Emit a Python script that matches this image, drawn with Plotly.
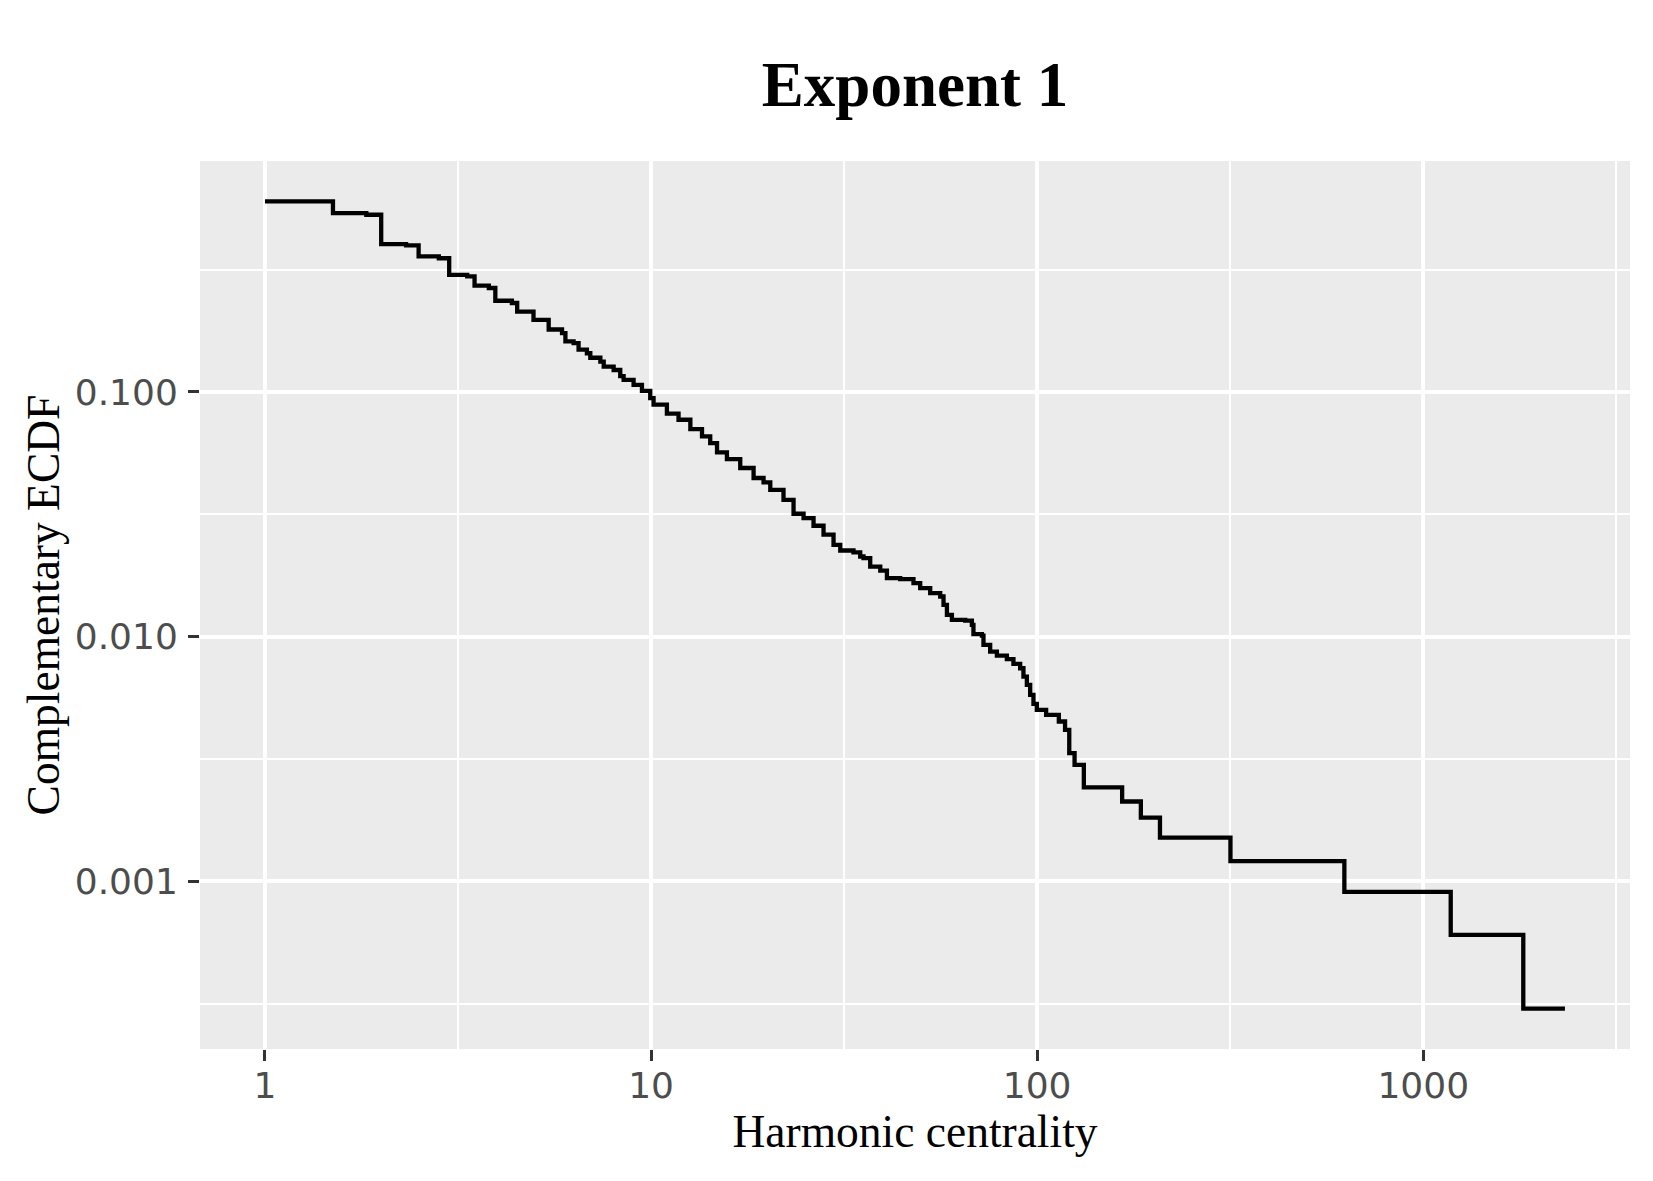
import plotly.graph_objects as go

# Complementary ECDF step data (value where each level starts, level)
centrality = [1.0, 1.5, 1.83, 2.0, 2.32, 2.5, 2.82, 3.0, 3.34, 3.49, 3.80, 3.95,
              4.36, 4.50, 4.96, 5.43, 5.88, 6.00, 6.30, 6.49, 6.82, 6.96, 7.39,
              7.54, 8.00, 8.32, 8.49, 9.01, 9.47, 9.95, 10.15, 10.99, 11.78, 12.64,
              13.55, 14.23, 14.82, 15.72, 17.02, 18.43, 19.56, 20.36, 22.03,
              23.39, 24.83, 26.35, 27.97, 29.69, 30.90, 33.44, 34.81, 35.50,
              36.95, 39.23, 40.82, 44.19, 47.83, 49.78, 52.84, 56.09, 57.21,
              58.38, 60.14, 65.10, 67.75, 68.39, 71.92, 72.60, 75.56, 78.65,
              83.47, 86.81, 90.36, 92.15, 94.04, 95.92, 97.82, 99.81, 105.5,
              113.8, 118.1, 121.1, 125.0, 132.1, 166.0, 185.6, 208.0, 316.7,
              624.7, 1178, 1816, 2328]
ccdf = [0.601, 0.538, 0.530, 0.402, 0.397, 0.358, 0.352, 0.301, 0.297, 0.272,
        0.266, 0.236, 0.231, 0.213, 0.197, 0.180, 0.174, 0.161, 0.1585, 0.149,
        0.144, 0.138, 0.133, 0.127, 0.123, 0.116, 0.112, 0.107, 0.101, 0.0944,
        0.0887, 0.0815, 0.0770, 0.0705, 0.0658, 0.0618, 0.0566, 0.0532, 0.0489,
        0.0445, 0.0427, 0.0398, 0.0362, 0.0318, 0.0305, 0.0284, 0.0261, 0.0237,
        0.0225, 0.0221, 0.02126, 0.02094, 0.01934, 0.01863, 0.01734, 0.01718,
        0.01655, 0.01579, 0.01506, 0.01459, 0.01349, 0.01228, 0.01171, 0.01163,
        0.01117, 0.01024, 0.01010, 0.00926, 0.00869, 0.00837, 0.00809, 0.00774,
        0.00743, 0.00687, 0.00635, 0.00578, 0.00531, 0.00502, 0.00479, 0.00450,
        0.00416, 0.00334, 0.00299, 0.00242, 0.00212, 0.00182, 0.00151, 0.00121,
        0.000906, 0.000604, 0.000302, 0.000302]

x_ticks = [1, 10, 100, 1000]
x_tick_labels = ["1", "10", "100", "1000"]
x_minor = [3.1623, 31.623, 316.23, 3162.3]
y_ticks = [0.1, 0.01, 0.001]
y_tick_labels = ["0.100", "0.010", "0.001"]
y_minor = [0.31623, 0.031623, 0.0031623, 0.00031623]

fig = go.Figure(go.Scatter(
    x=centrality, y=ccdf, mode="lines",
    line=dict(color="black", width=4.3, shape="hv"),
    showlegend=False, hoverinfo="x+y"))

tick_font = dict(family="DejaVu Sans", size=36, color="#4D4D4D")
title_font = dict(family="Liberation Serif", size=45.5, color="black")

W, H = 1645, 1173  # page body has an 8px margin

fig.update_layout(
    width=W, height=H, autosize=False,
    paper_bgcolor="white", plot_bgcolor="#EBEBEB",
    margin=dict(l=192, r=23, t=153, b=132),
    title=dict(text="<b>Exponent 1</b>", x=0.5, xref="paper", xanchor="center",
               y=1 - 76 / H, yref="container", yanchor="middle",
               font=dict(family="Liberation Serif", size=63, color="black")),
    xaxis=dict(type="log", range=[-0.1683, 3.5355],
               tickmode="array", tickvals=x_ticks, ticktext=x_tick_labels,
               showgrid=True, gridcolor="white", gridwidth=4.2,
               minor=dict(tickmode="array", tickvals=x_minor, showgrid=True,
                          gridcolor="white", gridwidth=2.2, ticks=""),
               ticks="outside", ticklen=11, tickwidth=3, tickcolor="#333333",
               tickfont=tick_font, ticklabelstandoff=-6,
               zeroline=False, showline=False,
               title=dict(text="Harmonic centrality", font=title_font, standoff=8)),
    yaxis=dict(type="log", range=[-3.6852, -0.056],
               tickmode="array", tickvals=y_ticks, ticktext=y_tick_labels,
               showgrid=True, gridcolor="white", gridwidth=4.2,
               minor=dict(tickmode="array", tickvals=y_minor, showgrid=True,
                          gridcolor="white", gridwidth=2.2, ticks=""),
               ticks="outside", ticklen=11, tickwidth=3, tickcolor="#333333",
               tickfont=tick_font, ticklabelstandoff=3,
               zeroline=False, showline=False,
               title=dict(text="Complementary ECDF", font=title_font, standoff=0)),
)

fig.write_html("out.html")
